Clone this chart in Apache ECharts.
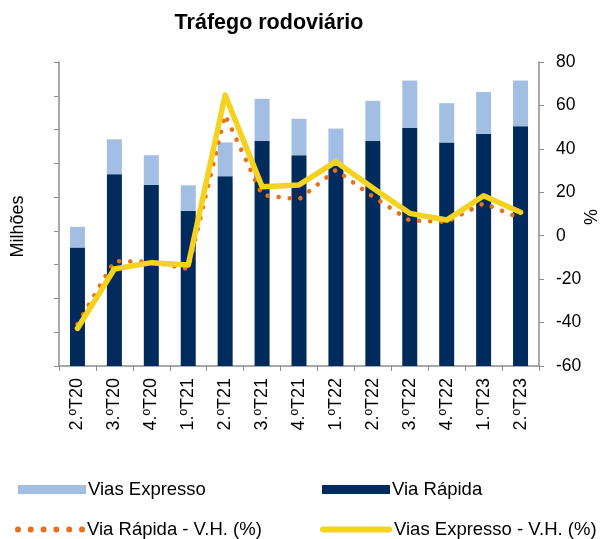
<!DOCTYPE html>
<html>
<head>
<meta charset="utf-8">
<script src="https://cdn.jsdelivr.net/npm/echarts@6/dist/echarts.min.js"></script>
<style>
  html, body { margin: 0; padding: 0; background: #fff; }
  #chart { width: 601px; height: 539px; }
</style>
</head>
<body>
<div id="chart"></div>
<script>
// quarters
const quarters = ["2.ºT20", "3.ºT20", "4.ºT20", "1.ºT21", "2.ºT21", "3.ºT21", "4.ºT21",
                  "1.ºT22", "2.ºT22", "3.ºT22", "4.ºT22", "1.ºT23", "2.ºT23"];

// traffic, millions (left axis, unlabelled)
const viaRapida    = [35.1, 56.8, 53.6, 45.9, 56.2, 66.6, 62.4, 59.3, 66.6, 70.5, 66.2, 68.7, 71.0];
const viasExpresso = [6.1, 10.3, 8.8, 7.6, 10.0, 12.5, 10.8, 11.0, 11.9, 14.0, 11.6, 12.4, 13.5];

// year-on-year change, % (right axis)
const vhViaRapida    = [-40.7, -11.7, -12, -15.3, 55.6, 18.7, 16.8, 30.3, 18, 7, 6.4, 14.9, 8];
const vhViasExpresso = [-42.7, -15.3, -12.4, -13.5, 64.8, 22.6, 23.4, 34.1, 22, 10.3, 7.2, 18.4, 10.8];

const FONT = "Liberation Sans, Arial, sans-serif";
const AXIS_GREY = "#8c8c8c";
const DARK = "#002b5c", LIGHT = "#a2bfe3", ORANGE = "#e8701a", YELLOW = "#f5d21e";

// legend icons: six round dots / a capsule line
let dotsPath = "path://";
for (let i = 0; i < 6; i++) {
  const x = (i * 12.8).toFixed(1);
  dotsPath += `M${x},3 a3,3 0 1,0 6,0 a3,3 0 1,0 -6,0 `;
}
const capsulePath = "path://M3,0 L69,0 A3,3 0 0,1 69,6 L3,6 A3,3 0 0,1 3,0 Z";

const chart = echarts.init(document.getElementById("chart"));

const legendBase = {
  orient: "horizontal",
  itemGap: 8,
  selectedMode: false,
  textStyle: { fontFamily: FONT, fontSize: 18.5, color: "#000", padding: [0, 0, 0, -3] }
};

chart.setOption({
  animation: false,
  title: {
    text: "Tráfego rodoviário",
    left: 264,
    textAlign: "center",
    top: 7,
    textStyle: { fontFamily: FONT, fontSize: 21.5, fontWeight: "bold", color: "#000" }
  },
  grid: { left: 59, right: 62, top: 62, bottom: 173, containLabel: false, outerBoundsMode: "none" },
  legend: [
    Object.assign({}, legendBase, { data: [{ name: "Vias Expresso", icon: "rect" }],
      itemWidth: 68, itemHeight: 9, left: 13, top: 475 }),
    Object.assign({}, legendBase, { data: [{ name: "Via Rápida", icon: "rect" }],
      itemWidth: 68, itemHeight: 9, left: 317, top: 475 }),
    Object.assign({}, legendBase, { data: [{ name: "Via Rápida - V.H. (%)", icon: dotsPath }],
      itemWidth: 70, itemHeight: 6, left: 10, top: 515 }),
    Object.assign({}, legendBase, { data: [{ name: "Vias Expresso - V.H. (%)", icon: capsulePath }],
      itemWidth: 72, itemHeight: 6, left: 315, top: 515 })
  ],
  xAxis: {
    type: "category",
    data: quarters,
    boundaryGap: true,
    axisLine: { onZero: false, lineStyle: { color: AXIS_GREY, width: 1.5 } },
    axisTick: { show: true, length: 5, lineStyle: { color: AXIS_GREY } },
    axisLabel: { rotate: 90, margin: 12, fontFamily: FONT, fontSize: 18, color: "#000" }
  },
  yAxis: [
    {
      type: "value",
      min: 0, max: 90, interval: 10,
      name: "Milhões",
      nameLocation: "middle",
      nameGap: 32,
      nameTextStyle: { fontFamily: FONT, fontSize: 18, color: "#000", padding: [0, 25, 0, 0] },
      axisLine: { show: true, lineStyle: { color: AXIS_GREY, width: 1.5 } },
      axisTick: { show: true, length: 5, lineStyle: { color: AXIS_GREY } },
      axisLabel: { show: false },
      splitLine: { show: false }
    },
    {
      type: "value",
      position: "right",
      min: -60, max: 80, interval: 20,
      name: "%",
      nameLocation: "middle",
      nameGap: 44,
      nameRotate: 90,
      nameMoveOverlap: false,
      nameTextStyle: { fontFamily: FONT, fontSize: 18, color: "#000", padding: [0, 6, 0, 0] },
      axisLine: { show: true, lineStyle: { color: AXIS_GREY, width: 1.5 } },
      axisTick: { show: true, length: 5, lineStyle: { color: AXIS_GREY } },
      axisLabel: { margin: 17, fontFamily: FONT, fontSize: 17.5, color: "#000" },
      splitLine: { show: false }
    }
  ],
  series: [
    {
      name: "Via Rápida",
      type: "bar",
      stack: "traffic",
      barWidth: 15,
      data: viaRapida,
      itemStyle: { color: DARK }
    },
    {
      name: "Vias Expresso",
      type: "bar",
      stack: "traffic",
      barWidth: 15,
      data: viasExpresso,
      itemStyle: { color: LIGHT }
    },
    {
      name: "Via Rápida - V.H. (%)",
      type: "line",
      yAxisIndex: 1,
      data: vhViaRapida,
      symbol: "none",
      itemStyle: { color: ORANGE },
      lineStyle: { color: ORANGE, width: 4.5, type: [0.1, 11], cap: "round" },
      z: 3
    },
    {
      name: "Vias Expresso - V.H. (%)",
      type: "line",
      yAxisIndex: 1,
      data: vhViasExpresso,
      symbol: "none",
      itemStyle: { color: YELLOW },
      lineStyle: { color: YELLOW, width: 5.5, cap: "round", join: "round" },
      z: 4
    }
  ]
});

window.addEventListener("resize", chart.resize);
</script>
</body>
</html>
